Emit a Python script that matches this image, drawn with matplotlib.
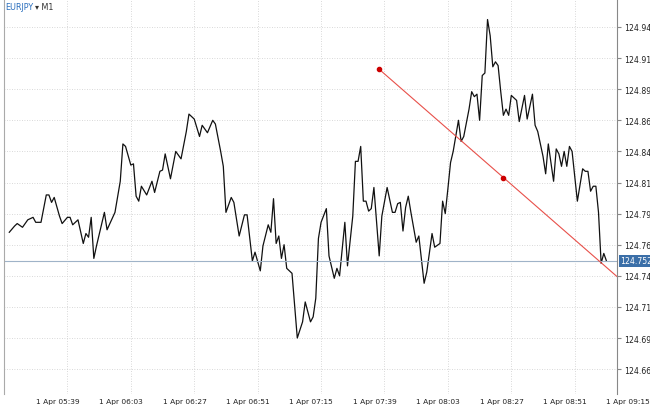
import matplotlib
matplotlib.use("Agg")
import matplotlib.pyplot as plt
import numpy as np
from datetime import datetime, timedelta

# minutes after 05:29 on 1 Apr
minutes = [0,2,3,5,7,9,10,12,14,15,16,17,19,20,22,23,24,26,28,29,30,31,32,33,36,37,40,42,43,44,46,47,48,49,50,52,54,55,57,58,59,61,63,65,67,68,70,72,73,75,77,78,80,81,82,84,85,87,89,90,92,93,95,96,98,99,100,101,102,103,104,105,107,109,111,112,114,115,116,117,118,120,121,123,124,125,127,128,130,131,132,133,134,135,136,137,138,140,141,143,145,146,147,148,149,150,151,152,154,155,157,158,160,161,163,164,165,166,167,168,170,171,172,174,175,176,177,178,179,180,181,182,183,184,185,186,187,188,189,190,192,193,195,196,198,199,200,202,203,204,206,207,208,209,210,211,212,213,215,217,218,219,220,221,222,223,224,225,226]
prices = [124.775,124.780,124.782,124.779,124.785,124.787,124.783,124.783,124.805,124.805,124.799,124.803,124.788,124.782,124.787,124.787,124.781,124.785,124.766,124.774,124.771,124.787,124.754,124.764,124.791,124.777,124.791,124.816,124.846,124.844,124.829,124.830,124.804,124.800,124.812,124.805,124.816,124.807,124.824,124.825,124.838,124.818,124.840,124.834,124.856,124.870,124.866,124.852,124.861,124.855,124.865,124.862,124.840,124.828,124.791,124.803,124.799,124.772,124.789,124.789,124.752,124.759,124.744,124.764,124.781,124.775,124.802,124.766,124.772,124.754,124.765,124.746,124.742,124.690,124.703,124.719,124.703,124.707,124.722,124.770,124.783,124.794,124.756,124.738,124.746,124.740,124.783,124.748,124.788,124.832,124.832,124.844,124.800,124.800,124.792,124.794,124.811,124.756,124.788,124.811,124.791,124.791,124.798,124.799,124.776,124.795,124.804,124.791,124.767,124.772,124.734,124.743,124.774,124.763,124.766,124.800,124.790,124.810,124.831,124.840,124.865,124.848,124.852,124.874,124.888,124.884,124.886,124.865,124.901,124.903,124.946,124.933,124.908,124.912,124.909,124.888,124.869,124.874,124.869,124.885,124.881,124.864,124.885,124.866,124.886,124.861,124.856,124.836,124.822,124.846,124.816,124.842,124.838,124.828,124.840,124.828,124.844,124.840,124.800,124.826,124.824,124.824,124.808,124.812,124.812,124.791,124.750,124.758,124.752]

trend_t = [140, 187]
trend_p = [124.906, 124.819]
current_price = 124.752
y_ticks = [124.665,124.690,124.715,124.740,124.765,124.790,124.815,124.840,124.865,124.890,124.915,124.940]
x_tick_minutes = [10,34,58,82,106,130,154,178,202,226]
start = datetime(2024,4,1,5,29)
x_labels = ["1 Apr " + (start + timedelta(minutes=m)).strftime("%H:%M") for m in x_tick_minutes]

XMAX = 230
YMIN, YMAX = 124.645, 124.9625

fig = plt.figure(figsize=(6.5,4.1), dpi=100)
ax = fig.add_axes([4/650, 15/410, 613/650, 395/410])

ax.plot(minutes, prices, color="#111111", lw=0.9)
ax.axhline(current_price, color="#9fb3c8", lw=0.8)
slope = (trend_p[1]-trend_p[0])/(trend_t[1]-trend_t[0])
ax.plot([trend_t[0], XMAX], [trend_p[0], trend_p[0] + slope*(XMAX-trend_t[0])], color="#e8504a", lw=0.8)
ax.plot(trend_t, trend_p, "o", color="#cc0000", ms=3)
ax.set_xlim(0, XMAX)
ax.set_ylim(YMIN, YMAX)

ax.set_xticks(x_tick_minutes)
ax.set_xticklabels(x_labels, ha="left", fontsize=5.4, color="#222222")
ax.set_xticks(np.arange(-2, XMAX, 12), minor=True)
ax.yaxis.tick_right()
ax.set_yticks(y_ticks)
ax.set_yticklabels([f"{v:.3f}" for v in y_ticks], fontsize=5.6, color="#222222")
ax.tick_params(axis="y", length=3, color="#888888", pad=2)
ax.tick_params(axis="x", length=0, pad=3)
ax.grid(True, which="major", axis="y", ls=(0,(1,2)), color="#cccccc", lw=0.6)
ax.grid(True, which="minor", axis="x", ls=(0,(1,2)), color="#cccccc", lw=0.6)
ax.tick_params(axis="x", which="minor", length=0)
for s in ["top", "bottom"]:
    ax.spines[s].set_visible(False)
ax.spines["left"].set_color("#aaaaaa")
ax.spines["right"].set_color("#888888")

ax.text(1.005, (current_price-YMIN)/(YMAX-YMIN), f"{current_price:.3f}", transform=ax.transAxes,
        fontsize=5.6, color="white", va="center", ha="left",
        bbox=dict(boxstyle="square,pad=0.15", fc="#3b6fa8", ec="none"))
fig.text(5/650, 1-8/410, "EURJPY", color="#2a6ebd", fontsize=5.8, va="center")
fig.text(35/650, 1-8/410, "▾ M1", color="#333333", fontsize=5.8, va="center")
fig.savefig("out.png", dpi=100)
